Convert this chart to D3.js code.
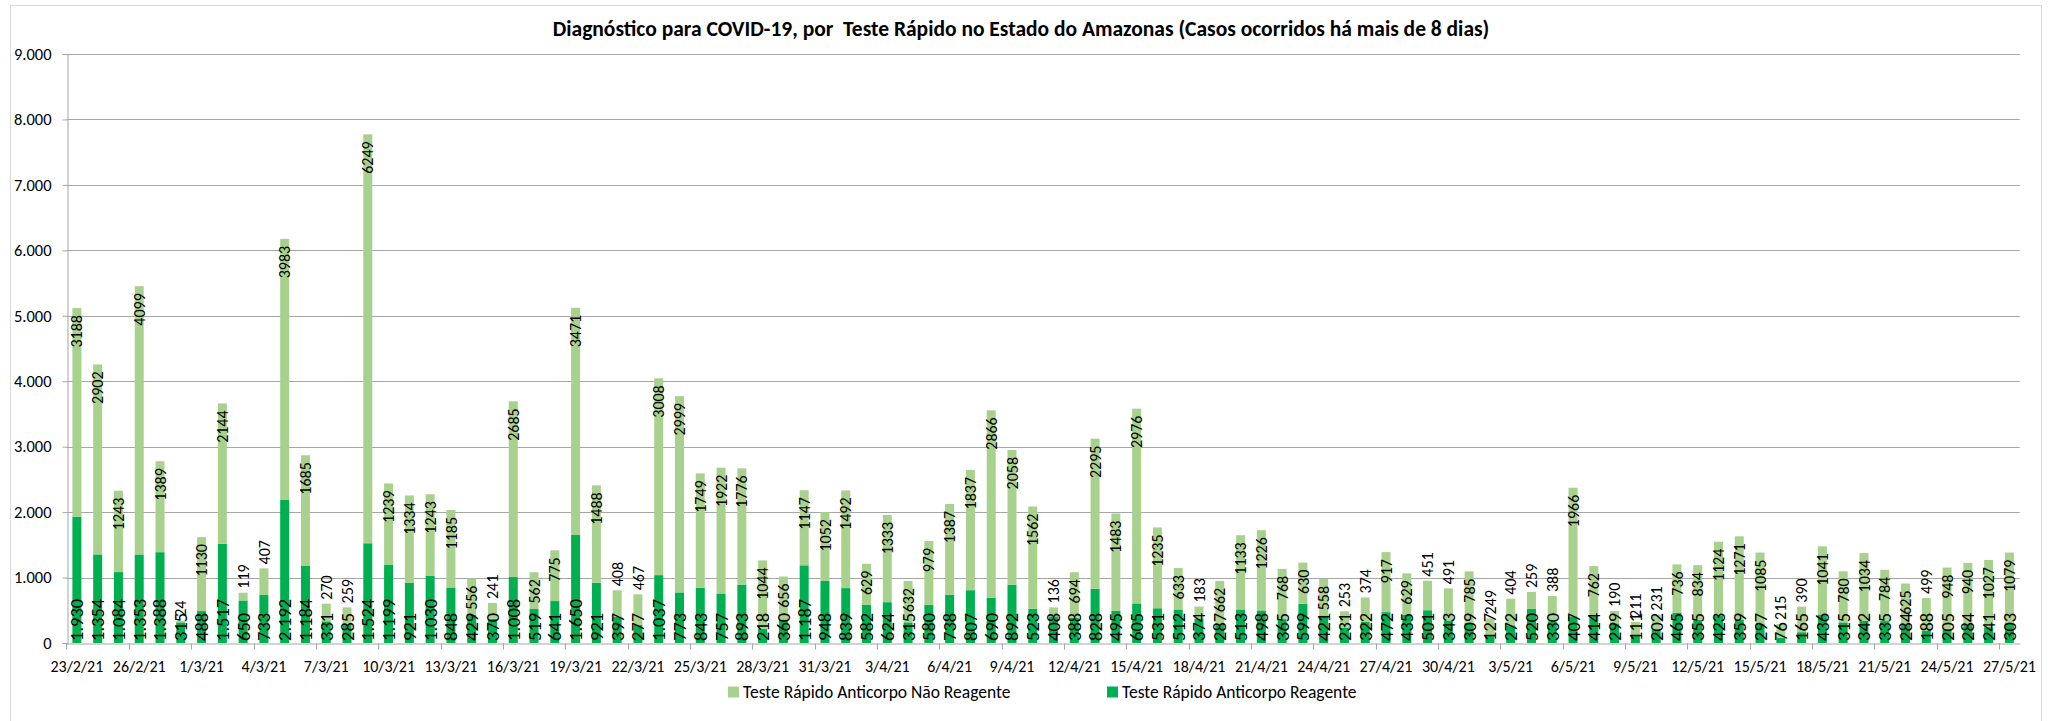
<!DOCTYPE html>
<html>
<head>
<meta charset="utf-8">
<script src="https://cdn.jsdelivr.net/npm/d3@7"></script>
<style>
  body { margin: 0; background: #fff; }
  svg { display: block; font-family: Carlito, Calibri, sans-serif; }
</style>
</head>
<body>
<svg id="chart" width="2066" height="721"></svg>
<script>
// Dados diários: 23/2/21 a 27/5/21
const firstDay = new Date(2021, 1, 23);
const lastDay = new Date(2021, 4, 28);

// Teste Rápido Anticorpo Reagente
const reagente = [
  1930, 1354, 1084, 1353, 1388, 315,
  488, 1517, 650, 733, 2192, 1184, 331, 285, 1524, 1199, 921, 1030, 848, 429, 370, 1008, 519,
  641, 1650, 921, 397, 277, 1037, 773, 843, 757, 893, 218, 360, 1187, 948,
  839, 582, 624, 315, 580, 738, 807, 690, 892, 523, 408, 388, 828, 495, 605, 531, 512, 374,
  287, 513, 498, 365, 599, 421, 231, 322, 472, 435, 501, 343,
  309, 127, 272, 520, 330, 407, 414, 299, 111, 202, 465, 355, 423, 359, 297, 76, 165, 436,
  315, 342, 335, 284, 188, 205, 284, 241, 303
];

// Teste Rápido Anticorpo Não Reagente
const naoReagente = [
  3188, 2902, 1243, 4099, 1389, 24,
  1130, 2144, 119, 407, 3983, 1685, 270, 259, 6249, 1239, 1334, 1243, 1185, 556, 241, 2685, 562,
  775, 3471, 1488, 408, 467, 3008, 2999, 1749, 1922, 1776, 1044, 656, 1147, 1052,
  1492, 629, 1333, 632, 979, 1387, 1837, 2866, 2058, 1562, 136, 694, 2295, 1483, 2976, 1235, 633, 183,
  662, 1133, 1226, 768, 630, 558, 253, 374, 917, 629, 451, 491,
  785, 249, 404, 259, 388, 1966, 762, 190, 211, 231, 736, 834, 1124, 1271, 1085, 215, 390, 1041,
  780, 1034, 784, 625, 499, 948, 940, 1027, 1079
];

const yTicks = [0, 1000, 2000, 3000, 4000, 5000, 6000, 7000, 8000, 9000];

const title = "Diagnóstico para COVID-19, por\u00a0 Teste Rápido no Estado do Amazonas (Casos ocorridos há mais de 8 dias)";
const seriesNames = ["Teste Rápido Anticorpo Não Reagente", "Teste Rápido Anticorpo Reagente"];
const colors = { nr: "#a9d18e", r: "#00b050" };

// categorias (um dia cada)
const fmtDate = d3.timeFormat("%-d/%-m/%y");
const days = d3.timeDay.range(firstDay, lastDay).map(fmtDate);

const rows = days.map((d, i) => ({ day: d, r: reagente[i], nr: naoReagente[i] }));

const ptBR = d3.formatLocale({ decimal: ",", thousands: ".", grouping: [3], currency: ["R$", ""] });
const fmtThousands = ptBR.format(",");

const svg = d3.select("#chart"),
    width = +svg.attr("width"),
    height = +svg.attr("height");

const plot = { left: 66.5, right: 2019.8, top: 54, bottom: 643 };
const gridColor = "#a6a6a6";

// moldura do gráfico
svg.append("rect")
    .attr("x", 10.5).attr("y", 5.5)
    .attr("width", 2031).attr("height", 760)
    .attr("fill", "#fff")
    .attr("stroke", "#d9d9d9");

const x = d3.scaleBand()
    .domain(days)
    .range([plot.left, plot.right])
    .paddingInner(0.567)
    .paddingOuter(0.2835);

const y = d3.scaleLinear()
    .domain([0, 9000])
    .range([plot.bottom, plot.top]);

// linhas de grade
svg.append("g")
    .selectAll("line")
    .data(yTicks.filter(t => t > 0))
    .enter().append("line")
    .attr("x1", plot.left).attr("x2", plot.right)
    .attr("y1", d => Math.round(y(d)) + 0.5)
    .attr("y2", d => Math.round(y(d)) + 0.5)
    .attr("stroke", gridColor);

// eixo Y
const yAxis = svg.append("g")
    .attr("transform", `translate(${Math.round(plot.left) + 0.5},0)`)
    .call(d3.axisLeft(y).tickValues(yTicks).tickFormat(fmtThousands).tickSize(5).tickPadding(11));
yAxis.select(".domain").attr("stroke", gridColor);
yAxis.selectAll(".tick line").attr("stroke", gridColor);
yAxis.selectAll(".tick text")
    .attr("font-size", 16.5)
    .attr("font-family", "Carlito, Calibri, sans-serif")
    .attr("fill", "#000");

// eixo X: rótulo a cada 3 dias
const labelDays = days.filter((d, i) => i % 3 === 0);
const step = x.step();
const xAxis = svg.append("g")
    .attr("transform", `translate(0,${Math.round(plot.bottom) + 0.5})`)
    .call(d3.axisBottom(x).tickValues(labelDays).tickSize(0).tickPadding(17));
xAxis.select(".domain").attr("stroke", gridColor);
xAxis.selectAll(".tick text")
    .attr("font-size", 16)
    .attr("font-family", "Carlito, Calibri, sans-serif")
    .attr("fill", "#000");

// marcas do eixo X ficam entre as categorias
xAxis.selectAll(".sep")
    .data(labelDays)
    .enter().append("line")
    .attr("class", "sep")
    .attr("x1", d => Math.round(x(d) - (step - x.bandwidth()) / 2) + 0.5)
    .attr("x2", d => Math.round(x(d) - (step - x.bandwidth()) / 2) + 0.5)
    .attr("y1", 0).attr("y2", 6)
    .attr("stroke", gridColor);

// barras empilhadas
const bars = svg.append("g").selectAll("g")
    .data(rows)
    .enter().append("g");

bars.append("rect")
    .attr("x", d => x(d.day))
    .attr("width", x.bandwidth())
    .attr("y", d => y(d.r))
    .attr("height", d => y(0) - y(d.r))
    .attr("fill", colors.r);

bars.append("rect")
    .attr("x", d => x(d.day))
    .attr("width", x.bandwidth())
    .attr("y", d => y(d.r + d.nr))
    .attr("height", d => y(d.r) - y(d.r + d.nr))
    .attr("fill", colors.nr);

// rótulos de dados (verticais)
const cx = d => x(d.day) + x.bandwidth() / 2;

bars.append("text")
    .attr("transform", d => `translate(${cx(d)},${y(0) - 2}) rotate(-90)`)
    .attr("dy", "0.35em")
    .attr("text-anchor", "start")
    .attr("font-size", 18.5)
    .attr("fill", "#000")
    .text(d => fmtThousands(d.r));

bars.append("text")
    .attr("dy", "0.35em")
    .attr("font-size", 16)
    .attr("fill", "#000")
    .text(d => d.nr)
    .each(function(d) {
        const len = this.getComputedTextLength();
        const segH = y(d.r) - y(d.r + d.nr);
        const top = y(d.r + d.nr);
        // cabe dentro do segmento? senão vai para cima da barra
        const inside = segH > len + 10;
        d3.select(this)
            .attr("transform", `translate(${cx(d)},${inside ? top + 7 : top - 4}) rotate(-90)`)
            .attr("text-anchor", inside ? "end" : "start");
    });

// título
svg.append("text")
    .attr("x", 1021)
    .attr("y", 36)
    .attr("text-anchor", "middle")
    .attr("font-size", 21.5)
    .attr("font-weight", "bold")
    .attr("fill", "#000")
    .text(title);

// legenda
const legend = svg.append("g")
    .selectAll("g")
    .data([{ name: seriesNames[0], c: colors.nr, x: 728 }, { name: seriesNames[1], c: colors.r, x: 1107 }])
    .enter().append("g")
    .attr("transform", d => `translate(${d.x},692)`);

legend.append("rect")
    .attr("x", 0).attr("y", -5.5)
    .attr("width", 11).attr("height", 11)
    .attr("fill", d => d.c);

legend.append("text")
    .attr("x", 15)
    .attr("dy", "0.35em")
    .attr("font-size", 17.5)
    .attr("fill", "#000")
    .text(d => d.name);
</script>
</body>
</html>
